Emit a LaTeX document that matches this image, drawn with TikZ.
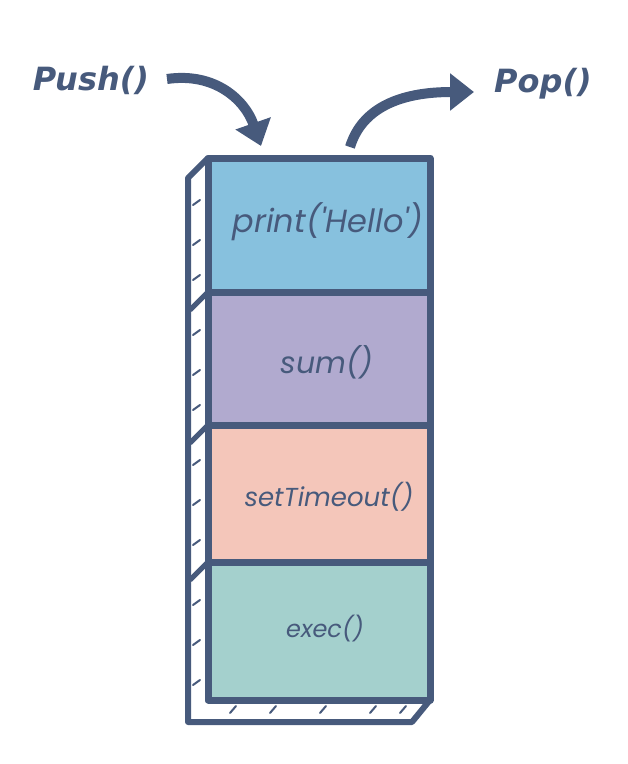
\documentclass[tikz,border=0pt]{standalone}
\usepackage{fontspec}
\setmainfont{DejaVu Sans}
\newfontfamily\boxfont{Poppins}
\usetikzlibrary{arrows.meta}
\definecolor{ink}{HTML}{475A7C}
\definecolor{cblue}{HTML}{87C1DE}
\definecolor{cpurple}{HTML}{B1AACF}
\definecolor{cpink}{HTML}{F4C6BA}
\definecolor{cteal}{HTML}{A4D0CD}
\tikzset{
  frame/.style={draw=ink, line width=7pt, line join=round, inner sep=0pt, minimum width=222pt},
  label/.style={text=ink, inner sep=0pt},
  biglabel/.style={text=ink, inner sep=0pt, font=\fontsize{32}{38}\selectfont\bfseries\itshape},
  brush/.style={draw=ink, line width=10pt, -{Triangle[width=36pt,length=24pt]}},
  hatch/.style={draw=ink, line width=2pt, line cap=round},
}
\begin{document}
\begin{tikzpicture}[x=1pt,y=-1pt]
\useasboundingbox (0,0) rectangle (628,764);
% side / bottom panel
\draw[ink, fill=white, line width=6pt, line join=round]
  (208,158) -- (188,178) -- (188,722) -- (412,722) -- (430,700) -- (208,700) -- cycle;
% division diagonals
\foreach \y in {292,425,562}{ \draw[ink, line width=5pt] (208,\y) -- (190,\y+18); }
% hatch marks on side
\foreach \y in {200,240,275,330,370,405,460,500,540,600,640,680}{ \draw[hatch] (193,\y+5) -- (200,\y); }
\foreach \x in {230,270,320,370,400}{ \draw[hatch] (\x,713) -- (\x+6,706); }
% boxes
\node[frame, fill=cblue,   minimum height=134pt] (b1) at (319,225) {};
\node[frame, fill=cpurple, minimum height=133pt] (b2) at (319,358.5) {};
\node[frame, fill=cpink,   minimum height=137pt] (b3) at (319,493.5) {};
\node[frame, fill=cteal,   minimum height=138pt] (b4) at (319,631) {};
\node[label, font=\boxfont\fontsize{32}{38}\selectfont\itshape] (t1) at (328,222) {print('Hello')};
\node[label, font=\boxfont\fontsize{30}{36}\selectfont\itshape] (t2) at (327,362) {sum()};
\node[label, font=\boxfont\fontsize{26}{32}\selectfont\itshape] (t3) at (329,497) {setTimeout()};
\node[label, font=\boxfont\fontsize{24}{30}\selectfont\itshape] (t4) at (325,629) {exec()};
% labels
\node[biglabel] (push) at (91,80) {Push()};
\node[biglabel] (pop) at (543,84) {Pop()};
\coordinate (pushs) at (167,79);
\coordinate (pushe) at (261,146);
\coordinate (pops) at (350,147);
\coordinate (pope) at (474,92);
\draw[brush] (pushs) .. controls (215,72) and (245,100) .. (pushe);
\draw[brush] (pops) .. controls (362,108) and (400,92) .. (pope);
\end{tikzpicture}
\end{document}
